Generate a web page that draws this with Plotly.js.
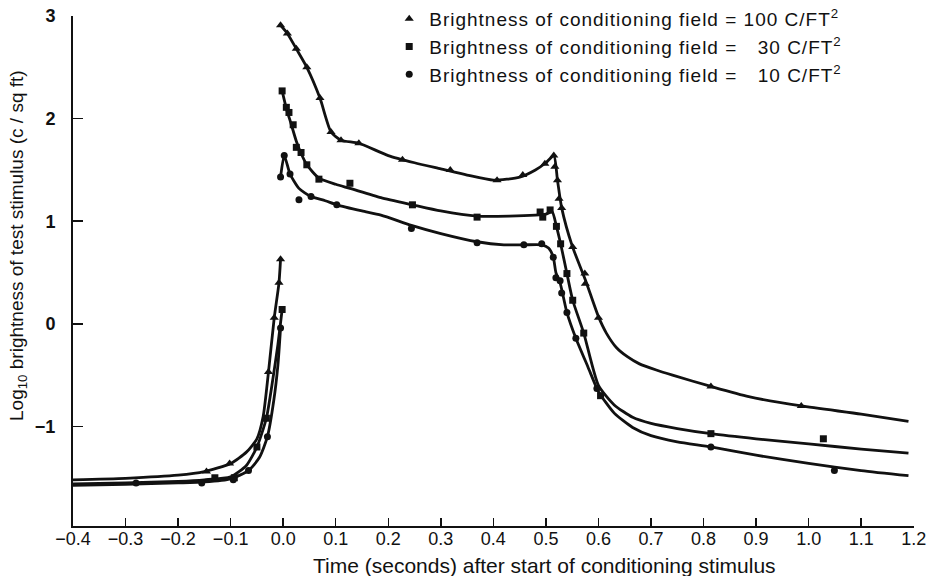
<!DOCTYPE html>
<html>
<head>
<meta charset="utf-8">
<script src="https://cdn.plot.ly/plotly-3.0.1.min.js"></script>
<style>
html,body{margin:0;padding:0;background:#fff;}
#chart{width:926px;height:576px;}
.legendtext{letter-spacing:1px;}
</style>
</head>
<body>
<div id="chart"></div>
<script>
// Legend labels and axis titles
const seriesNames = [
  "Brightness of conditioning field = 100 C/FT<sup>2</sup>",
  "Brightness of conditioning field = \u2007\u200a30 C/FT<sup>2</sup>",
  "Brightness of conditioning field = \u2007\u200a10 C/FT<sup>2</sup>"
];
const xTitle = 'Time (seconds) after start of conditioning stimulus';
const yTitle = 'Log<sub>10</sub> brightness of test stimulus (c / sq ft)';

const triX = [-0.146,-0.102,-0.028,-0.017,-0.008,-0.005,
  -0.005,0.008,0.025,0.045,0.070,0.091,0.110,0.144,0.227,0.318,0.407,0.456,0.498,0.515,0.517,0.522,0.525,0.530,0.551,0.574,0.575,0.600,0.814,0.986];
const triY = [-1.44,-1.36,-0.47,0.06,0.40,0.63,
  2.91,2.83,2.68,2.50,2.20,1.87,1.79,1.76,1.60,1.50,1.40,1.45,1.56,1.64,1.53,1.40,1.22,1.13,0.75,0.49,0.39,0.06,-0.61,-0.80];

const sqX = [-0.130,-0.093,-0.050,-0.032,-0.002,
  -0.002,0.006,0.011,0.019,0.025,0.034,0.045,0.068,0.127,0.246,0.369,0.489,0.494,0.508,0.520,0.528,0.540,0.551,0.572,0.604,0.814,1.028];
const sqY = [-1.50,-1.50,-1.20,-0.92,0.14,
  2.27,2.11,2.06,1.94,1.72,1.67,1.55,1.41,1.37,1.16,1.04,1.09,1.04,1.11,0.95,0.78,0.49,0.23,-0.09,-0.70,-1.07,-1.12];

const circX = [-0.280,-0.155,-0.095,-0.066,-0.030,-0.005,
  -0.005,0.002,0.013,0.030,0.053,0.102,0.244,0.369,0.458,0.492,0.514,0.519,0.527,0.530,0.540,0.557,0.597,0.814,1.049];
const circY = [-1.55,-1.55,-1.52,-1.43,-1.10,-0.04,
  1.43,1.64,1.46,1.21,1.24,1.16,0.93,0.79,0.77,0.78,0.65,0.45,0.42,0.30,0.11,-0.14,-0.63,-1.20,-1.43];

// Fitted curves: before and after stimulus onset
const triPreX = [-0.4,-0.3,-0.2,-0.15,-0.1,-0.07,-0.05,-0.038,-0.028,-0.017,-0.008,-0.005];
const triPreY = [-1.52,-1.505,-1.475,-1.44,-1.36,-1.25,-1.12,-0.90,-0.47,0.06,0.40,0.63];
const sqPreX = [-0.4,-0.3,-0.2,-0.15,-0.1,-0.07,-0.05,-0.032,-0.02,-0.01,-0.002];
const sqPreY = [-1.56,-1.55,-1.535,-1.52,-1.49,-1.38,-1.20,-0.92,-0.55,-0.20,0.14];
const circPreX = [-0.4,-0.3,-0.2,-0.15,-0.1,-0.066,-0.045,-0.03,-0.018,-0.01,-0.005];
const circPreY = [-1.575,-1.565,-1.55,-1.54,-1.51,-1.43,-1.30,-1.10,-0.75,-0.40,-0.04];

const triPostX = [-0.005,0.008,0.025,0.045,0.07,0.091,0.11,0.144,0.2,0.25,0.3,0.35,0.4,0.45,0.48,0.5,0.515,0.522,0.53,0.55,0.575,0.6,0.615,0.634,0.655,0.678,0.71,0.741,0.814,0.886,0.986,1.1,1.19];
const triPostY = [2.91,2.83,2.68,2.50,2.20,1.87,1.79,1.76,1.64,1.57,1.51,1.45,1.40,1.43,1.50,1.57,1.64,1.40,1.13,0.76,0.43,0.07,-0.09,-0.23,-0.32,-0.39,-0.45,-0.50,-0.61,-0.71,-0.80,-0.88,-0.95];
const sqPostX = [-0.002,0.006,0.015,0.025,0.035,0.045,0.068,0.1,0.127,0.186,0.246,0.3,0.369,0.43,0.48,0.5,0.512,0.52,0.528,0.54,0.551,0.572,0.6,0.63,0.665,0.7,0.75,0.814,0.9,1.0,1.1,1.19];
const sqPostY = [2.27,2.10,1.95,1.78,1.65,1.55,1.42,1.36,1.32,1.23,1.16,1.10,1.05,1.05,1.06,1.07,1.09,0.95,0.78,0.49,0.23,-0.09,-0.60,-0.79,-0.91,-0.97,-1.02,-1.07,-1.12,-1.17,-1.22,-1.26];
const circPostX = [-0.005,0.002,0.013,0.03,0.053,0.08,0.102,0.15,0.186,0.244,0.3,0.369,0.42,0.458,0.492,0.505,0.514,0.519,0.527,0.54,0.557,0.58,0.6,0.63,0.665,0.7,0.75,0.814,0.9,1.0,1.1,1.19];
const circPostY = [1.43,1.64,1.46,1.32,1.24,1.20,1.16,1.10,1.06,0.96,0.88,0.80,0.77,0.77,0.77,0.74,0.65,0.50,0.40,0.11,-0.14,-0.42,-0.66,-0.87,-1.01,-1.09,-1.15,-1.20,-1.28,-1.36,-1.43,-1.48];

const xTickVals = [-0.4,-0.3,-0.2,-0.1,0.0,0.1,0.2,0.3,0.4,0.5,0.6,0.7,0.8,0.9,1.0,1.1,1.2];
const yTickVals = [-1,0,1,2,3];

const FONT = "'Liberation Sans', Arial, sans-serif";
const lineStyle = {color:'#111', width:2.8, shape:'spline', smoothing:0.6};

function curve(x, y){
  return {x:x, y:y, mode:'lines', line:lineStyle, showlegend:false, hoverinfo:'skip', type:'scatter'};
}
function pts(x, y, name, symbol, size){
  return {x:x, y:y, mode:'markers', name:name, type:'scatter',
    marker:{symbol:symbol, size:size, color:'#111'}};
}

const data = [
  curve(triPreX, triPreY), curve(sqPreX, sqPreY), curve(circPreX, circPreY),
  curve(triPostX, triPostY), curve(sqPostX, sqPostY), curve(circPostX, circPostY),
  pts(triX, triY, seriesNames[0], 'triangle-up', 8),
  pts(sqX, sqY, seriesNames[1], 'square', 7),
  pts(circX, circY, seriesNames[2], 'circle', 7)
];

const layout = {
  width:926, height:576, autosize:false,
  margin:{l:73, r:12, t:16, b:50, autoexpand:false},
  paper_bgcolor:'#fff', plot_bgcolor:'#fff',
  font:{family:FONT, color:'#111', size:15},
  showlegend:true,
  legend:{x:0.376, xref:'paper', y:1.0, yref:'container', xanchor:'left', yanchor:'top',
    bgcolor:'rgba(0,0,0,0)', font:{size:19, family:FONT}, itemwidth:30, tracegroupgap:0},
  xaxis:{range:[-0.4,1.2005], tickvals:xTickVals, tickformat:'.1f',
    showgrid:false, zeroline:false, showline:true, linecolor:'#111', linewidth:2,
    ticks:'inside', ticklen:8, tickwidth:1.5, tickcolor:'#111',
    tickfont:{size:18, family:FONT}, ticklabelstandoff:-5, ticklabeloverflow:'allow'},
  yaxis:{range:[-1.97,3], tickvals:yTickVals,
    showgrid:false, zeroline:false, showline:true, linecolor:'#111', linewidth:2,
    ticks:'inside', ticklen:10, tickwidth:1.5, tickcolor:'#111',
    tickfont:{size:18, family:FONT, weight:'bold'}, ticklabelstandoff:12},
  annotations:[
    {text:xTitle, xref:'paper', yref:'paper', x:0.561, y:-0.0765, xanchor:'center', yanchor:'middle',
      showarrow:false, font:{size:21, family:FONT, color:'#111'}},
    {text:yTitle, xref:'paper', yref:'paper', x:-0.0654, y:0.551, xanchor:'center', yanchor:'middle',
      textangle:-90, showarrow:false, font:{size:19, family:FONT, color:'#111'}}
  ]
};

Plotly.newPlot('chart', data, layout, {displayModeBar:false, staticPlot:true});
</script>
</body>
</html>
